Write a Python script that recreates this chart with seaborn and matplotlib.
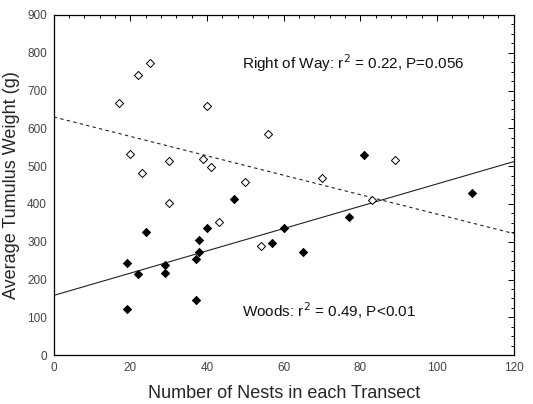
import numpy as np
import pandas as pd
import matplotlib
matplotlib.use("Agg")
import matplotlib.pyplot as plt
from matplotlib.ticker import MultipleLocator
import seaborn as sns

# Right of Way (open diamonds)
row_x = [17, 22, 25, 20, 23, 30, 30, 39, 40, 41, 50, 43, 56, 54, 70, 83, 89]
row_y = [668, 740, 773, 533, 483, 513, 403, 518, 660, 497, 458, 352, 586, 288, 469, 410, 517]
# Woods (filled diamonds)
woods_x = [19, 19, 22, 24, 29, 29, 37, 37, 38, 38, 40, 47, 57, 60, 65, 77, 81, 109]
woods_y = [243, 122, 214, 327, 238, 216, 253, 145, 304, 273, 335, 412, 297, 335, 273, 366, 529, 430]
# fitted lines: intercept, slope
woods_fit = [158, 2.95]
row_fit = [630, -2.57]
x_range = [0, 120]

sns.set_theme(style="white")
plt.rcParams['font.family'] = ['Liberation Sans', 'DejaVu Sans']

fig = plt.figure(figsize=(5.33, 4.04), dpi=100)
ax = fig.add_axes([0.101, 0.121, 0.863, 0.842])

df_row = pd.DataFrame({"x": row_x, "y": row_y})
df_w = pd.DataFrame({"x": woods_x, "y": woods_y})
sns.scatterplot(data=df_row, x="x", y="y", ax=ax, marker="D", s=17,
                facecolor="white", edgecolor="black", linewidth=0.7, zorder=3)
sns.scatterplot(data=df_w, x="x", y="y", ax=ax, marker="D", s=17,
                color="black", edgecolor="black", linewidth=0.7, zorder=3)

xs = np.array(x_range, dtype=float)
ax.plot(xs, woods_fit[0] + woods_fit[1] * xs, color="#222222", lw=0.8, zorder=2)
ax.plot(xs, row_fit[0] + row_fit[1] * xs, color="#222222", lw=0.8,
        dashes=(3, 3), zorder=2)

ax.set_xlim(0, 120)
ax.set_ylim(0, 900)
ax.xaxis.set_major_locator(MultipleLocator(20))
ax.xaxis.set_minor_locator(MultipleLocator(4))
ax.yaxis.set_major_locator(MultipleLocator(100))
ax.yaxis.set_minor_locator(MultipleLocator(25))
ax.tick_params(which="both", direction="in", top=True, right=True,
               colors="black", labelcolor="#444444", labelsize=8.5, width=0.7)
ax.tick_params(which="major", length=4, pad=5)
ax.tick_params(which="minor", length=2)
for s in ax.spines.values():
    s.set_color("black")
    s.set_linewidth(0.9)

ax.set_xlabel("Number of Nests in each Transect", fontsize=13, labelpad=8)
ax.set_ylabel("Average Tumulus Weight (g)", fontsize=13, labelpad=5)

ax.text(0.409, 0.859, r"Right of Way: r$^2$ = 0.22, P=0.056", transform=ax.transAxes,
        fontsize=11, ha="left", va="center", color="#111111")
ax.text(0.41, 0.132, r"Woods: r$^2$ = 0.49, P<0.01", transform=ax.transAxes,
        fontsize=11, ha="left", va="center", color="#111111")

fig.savefig("out.png", dpi=100)
